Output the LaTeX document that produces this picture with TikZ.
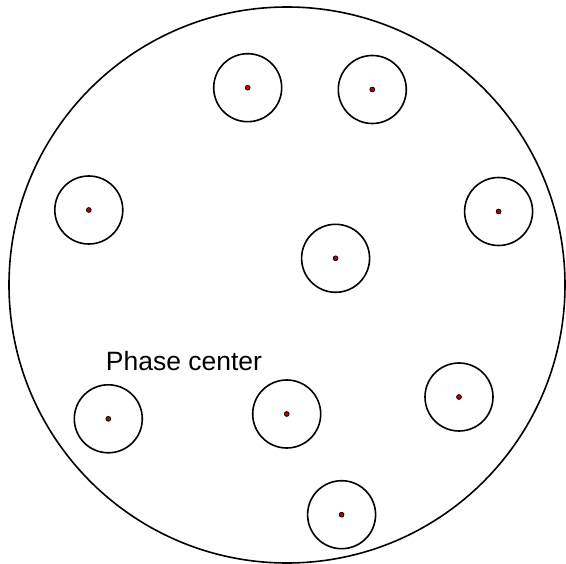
\documentclass[tikz,border=0pt]{standalone}
\usepackage{fontspec}
\setmainfont{Liberation Sans}
\definecolor{dotred}{RGB}{190,0,0}
\begin{document}
\begin{tikzpicture}[x=1pt,y=-1pt,
  antenna/.style={circle,draw=black,line width=1.6pt,minimum size=68pt,inner sep=0pt},
  pc/.style={circle,draw=black,fill=dotred,line width=0.8pt,minimum size=4.8pt,inner sep=0pt},
  lbl/.style={font=\fontsize{26.5}{30}\selectfont,anchor=base,inner sep=0pt}]
\useasboundingbox (0,0) rectangle (566,564);
\node[circle,draw=black,line width=1.6pt,minimum size=556pt,inner sep=0pt] (dish) at (287,285) {};
\foreach \n/\x/\y in {a/247.7/87.7, b/372.3/89.5, c/88.8/210, d/498.6/211.5, e/335.6/258.3, f/108.3/418.8, g/286.7/414, h/459/397, i/341.6/514.7}{
  \node[antenna] (\n) at (\x,\y) {};
  \node[pc] (\n-pc) at (\x,\y) {};
}
\node[lbl] (label) at (184,371) {Phase center};
\end{tikzpicture}
\end{document}
